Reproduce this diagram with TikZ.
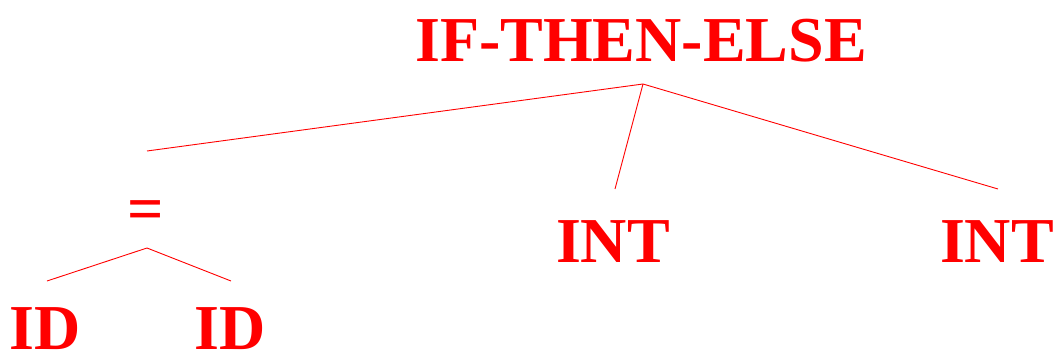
\documentclass[tikz,border=0pt]{standalone}
\usepackage{fontspec}
\setmainfont{Liberation Serif}
\begin{document}
\begin{tikzpicture}[x=1pt,y=-1pt,
  lbl/.style={text=red,font=\fontsize{64}{68}\selectfont\bfseries,inner sep=0pt,anchor=base},
  edge/.style={draw=red,line width=0.9pt}]
\useasboundingbox (0,0) rectangle (1053,353);
\node[lbl] (root) at (641,62) {IF-THEN-ELSE};
\node[lbl] (eq) at (146,230) {=};
\node[lbl] (int1) at (613,262) {INT};
\node[lbl] (int2) at (997,262) {INT};
\node[lbl] (id1) at (45,349) {ID};
\node[lbl] (id2) at (230,349) {ID};
\coordinate (rootb) at (643,84);
\coordinate (eqt) at (147,151);
\coordinate (int1t) at (615,189);
\coordinate (int2t) at (998,189);
\coordinate (eqb) at (147,248);
\coordinate (id1t) at (47,281);
\coordinate (id2t) at (231,281);
\draw[edge] (rootb) -- (eqt);
\draw[edge] (rootb) -- (int1t);
\draw[edge] (rootb) -- (int2t);
\draw[edge] (eqb) -- (id1t);
\draw[edge] (eqb) -- (id2t);
\end{tikzpicture}
\end{document}
